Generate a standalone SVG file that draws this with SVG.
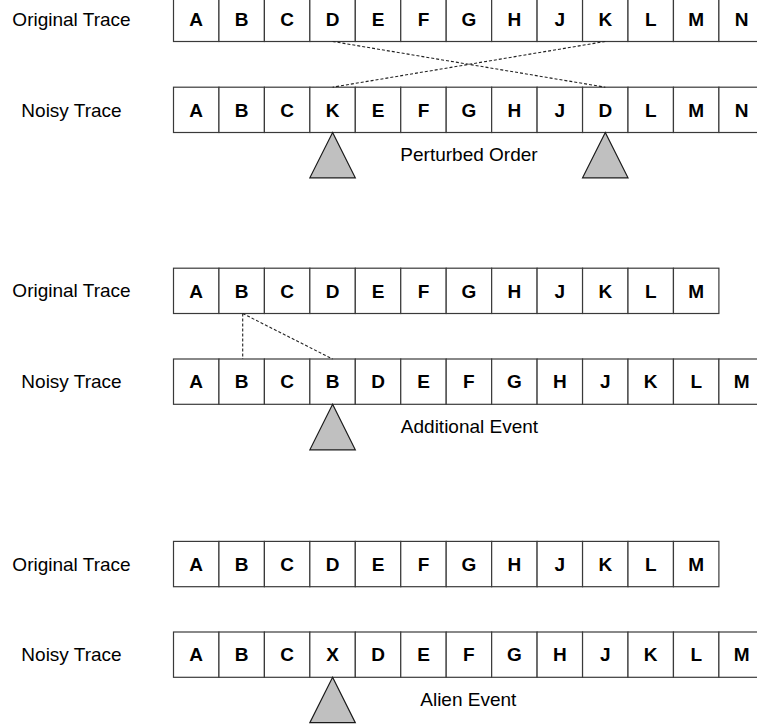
<svg xmlns="http://www.w3.org/2000/svg" width="757" height="727" viewBox="0 0 757 727">
<defs>
<style>
.bg{fill:#ffffff}
.cell{fill:#ffffff;stroke:#3a3a3a;stroke-width:1.2}
.ev{font-family:"Liberation Sans",Arial,sans-serif;font-size:19px;font-weight:bold;fill:#000;text-anchor:middle}
.lbl{font-family:"Liberation Sans",Arial,sans-serif;font-size:19px;fill:#000;text-anchor:middle}
.note{font-family:"Liberation Sans",Arial,sans-serif;font-size:19px;fill:#000;text-anchor:middle}
.tri{fill:#c0c0c0;stroke:#1a1a1a;stroke-width:1.2}
.dash{fill:none;stroke:#222;stroke-width:1.1;stroke-dasharray:3 2}
</style>
</defs>
<rect class="bg" x="0" y="0" width="757" height="727"/>

<!-- Section 1: Perturbed Order -->
<g id="s1-orig-label"><text class="lbl" x="71.5" y="25.6">Original Trace</text></g>
<g id="s1-orig">
<rect class="cell" x="173.5" y="-3.8" width="45.45" height="45.3"/>
<rect class="cell" x="218.95" y="-3.8" width="45.45" height="45.3"/>
<rect class="cell" x="264.4" y="-3.8" width="45.45" height="45.3"/>
<rect class="cell" x="309.85" y="-3.8" width="45.45" height="45.3"/>
<rect class="cell" x="355.3" y="-3.8" width="45.45" height="45.3"/>
<rect class="cell" x="400.75" y="-3.8" width="45.45" height="45.3"/>
<rect class="cell" x="446.2" y="-3.8" width="45.45" height="45.3"/>
<rect class="cell" x="491.65" y="-3.8" width="45.45" height="45.3"/>
<rect class="cell" x="537.1" y="-3.8" width="45.45" height="45.3"/>
<rect class="cell" x="582.55" y="-3.8" width="45.45" height="45.3"/>
<rect class="cell" x="628" y="-3.8" width="45.45" height="45.3"/>
<rect class="cell" x="673.45" y="-3.8" width="45.45" height="45.3"/>
<rect class="cell" x="718.9" y="-3.8" width="45.45" height="45.3"/>
<text class="ev" x="196.2" y="25.6">A</text>
<text class="ev" x="241.7" y="25.6">B</text>
<text class="ev" x="287.1" y="25.6">C</text>
<text class="ev" x="332.6" y="25.6">D</text>
<text class="ev" x="378" y="25.6">E</text>
<text class="ev" x="423.5" y="25.6">F</text>
<text class="ev" x="468.9" y="25.6">G</text>
<text class="ev" x="514.4" y="25.6">H</text>
<text class="ev" x="559.8" y="25.6">J</text>
<text class="ev" x="605.3" y="25.6">K</text>
<text class="ev" x="650.7" y="25.6">L</text>
<text class="ev" x="696.2" y="25.6">M</text>
<text class="ev" x="741.6" y="25.6">N</text>
</g>
<g id="s1-noisy-label"><text class="lbl" x="71.5" y="116.6">Noisy Trace</text></g>
<g id="s1-noisy">
<rect class="cell" x="173.5" y="87.2" width="45.45" height="45.3"/>
<rect class="cell" x="218.95" y="87.2" width="45.45" height="45.3"/>
<rect class="cell" x="264.4" y="87.2" width="45.45" height="45.3"/>
<rect class="cell" x="309.85" y="87.2" width="45.45" height="45.3"/>
<rect class="cell" x="355.3" y="87.2" width="45.45" height="45.3"/>
<rect class="cell" x="400.75" y="87.2" width="45.45" height="45.3"/>
<rect class="cell" x="446.2" y="87.2" width="45.45" height="45.3"/>
<rect class="cell" x="491.65" y="87.2" width="45.45" height="45.3"/>
<rect class="cell" x="537.1" y="87.2" width="45.45" height="45.3"/>
<rect class="cell" x="582.55" y="87.2" width="45.45" height="45.3"/>
<rect class="cell" x="628" y="87.2" width="45.45" height="45.3"/>
<rect class="cell" x="673.45" y="87.2" width="45.45" height="45.3"/>
<rect class="cell" x="718.9" y="87.2" width="45.45" height="45.3"/>
<text class="ev" x="196.2" y="116.6">A</text>
<text class="ev" x="241.7" y="116.6">B</text>
<text class="ev" x="287.1" y="116.6">C</text>
<text class="ev" x="332.6" y="116.6">K</text>
<text class="ev" x="378" y="116.6">E</text>
<text class="ev" x="423.5" y="116.6">F</text>
<text class="ev" x="468.9" y="116.6">G</text>
<text class="ev" x="514.4" y="116.6">H</text>
<text class="ev" x="559.8" y="116.6">J</text>
<text class="ev" x="605.3" y="116.6">D</text>
<text class="ev" x="650.7" y="116.6">L</text>
<text class="ev" x="696.2" y="116.6">M</text>
<text class="ev" x="741.6" y="116.6">N</text>
</g>
<g id="s1-marker-1"><polygon class="tri" points="332.6,132.5 355.3,177.8 309.85,177.8"/></g>
<g id="s1-marker-2"><polygon class="tri" points="605.3,132.5 628,177.8 582.55,177.8"/></g>
<g id="s1-caption"><text class="note" x="469" y="160.5">Perturbed Order</text></g>

<!-- Section 2: Additional Event -->
<g id="s2-orig-label"><text class="lbl" x="71.5" y="297.2">Original Trace</text></g>
<g id="s2-orig">
<rect class="cell" x="173.5" y="268.2" width="45.45" height="45.3"/>
<rect class="cell" x="218.95" y="268.2" width="45.45" height="45.3"/>
<rect class="cell" x="264.4" y="268.2" width="45.45" height="45.3"/>
<rect class="cell" x="309.85" y="268.2" width="45.45" height="45.3"/>
<rect class="cell" x="355.3" y="268.2" width="45.45" height="45.3"/>
<rect class="cell" x="400.75" y="268.2" width="45.45" height="45.3"/>
<rect class="cell" x="446.2" y="268.2" width="45.45" height="45.3"/>
<rect class="cell" x="491.65" y="268.2" width="45.45" height="45.3"/>
<rect class="cell" x="537.1" y="268.2" width="45.45" height="45.3"/>
<rect class="cell" x="582.55" y="268.2" width="45.45" height="45.3"/>
<rect class="cell" x="628" y="268.2" width="45.45" height="45.3"/>
<rect class="cell" x="673.45" y="268.2" width="45.45" height="45.3"/>
<text class="ev" x="196.2" y="297.6">A</text>
<text class="ev" x="241.7" y="297.6">B</text>
<text class="ev" x="287.1" y="297.6">C</text>
<text class="ev" x="332.6" y="297.6">D</text>
<text class="ev" x="378" y="297.6">E</text>
<text class="ev" x="423.5" y="297.6">F</text>
<text class="ev" x="468.9" y="297.6">G</text>
<text class="ev" x="514.4" y="297.6">H</text>
<text class="ev" x="559.8" y="297.6">J</text>
<text class="ev" x="605.3" y="297.6">K</text>
<text class="ev" x="650.7" y="297.6">L</text>
<text class="ev" x="696.2" y="297.6">M</text>
</g>
<g id="s2-noisy-label"><text class="lbl" x="71.5" y="388.4">Noisy Trace</text></g>
<g id="s2-noisy">
<rect class="cell" x="173.5" y="359" width="45.45" height="45.3"/>
<rect class="cell" x="218.95" y="359" width="45.45" height="45.3"/>
<rect class="cell" x="264.4" y="359" width="45.45" height="45.3"/>
<rect class="cell" x="309.85" y="359" width="45.45" height="45.3"/>
<rect class="cell" x="355.3" y="359" width="45.45" height="45.3"/>
<rect class="cell" x="400.75" y="359" width="45.45" height="45.3"/>
<rect class="cell" x="446.2" y="359" width="45.45" height="45.3"/>
<rect class="cell" x="491.65" y="359" width="45.45" height="45.3"/>
<rect class="cell" x="537.1" y="359" width="45.45" height="45.3"/>
<rect class="cell" x="582.55" y="359" width="45.45" height="45.3"/>
<rect class="cell" x="628" y="359" width="45.45" height="45.3"/>
<rect class="cell" x="673.45" y="359" width="45.45" height="45.3"/>
<rect class="cell" x="718.9" y="359" width="45.45" height="45.3"/>
<text class="ev" x="196.2" y="388.4">A</text>
<text class="ev" x="241.7" y="388.4">B</text>
<text class="ev" x="287.1" y="388.4">C</text>
<text class="ev" x="332.6" y="388.4">B</text>
<text class="ev" x="378" y="388.4">D</text>
<text class="ev" x="423.5" y="388.4">E</text>
<text class="ev" x="468.9" y="388.4">F</text>
<text class="ev" x="514.4" y="388.4">G</text>
<text class="ev" x="559.8" y="388.4">H</text>
<text class="ev" x="605.3" y="388.4">J</text>
<text class="ev" x="650.7" y="388.4">K</text>
<text class="ev" x="696.2" y="388.4">L</text>
<text class="ev" x="741.6" y="388.4">M</text>
</g>
<g id="s2-marker"><polygon class="tri" points="332.6,404.3 355.3,449.8 309.85,449.8"/></g>
<g id="s2-caption"><text class="note" x="469.5" y="433">Additional Event</text></g>

<!-- Section 3: Alien Event -->
<g id="s3-orig-label"><text class="lbl" x="71.5" y="570.6">Original Trace</text></g>
<g id="s3-orig">
<rect class="cell" x="173.5" y="541.4" width="45.45" height="45.3"/>
<rect class="cell" x="218.95" y="541.4" width="45.45" height="45.3"/>
<rect class="cell" x="264.4" y="541.4" width="45.45" height="45.3"/>
<rect class="cell" x="309.85" y="541.4" width="45.45" height="45.3"/>
<rect class="cell" x="355.3" y="541.4" width="45.45" height="45.3"/>
<rect class="cell" x="400.75" y="541.4" width="45.45" height="45.3"/>
<rect class="cell" x="446.2" y="541.4" width="45.45" height="45.3"/>
<rect class="cell" x="491.65" y="541.4" width="45.45" height="45.3"/>
<rect class="cell" x="537.1" y="541.4" width="45.45" height="45.3"/>
<rect class="cell" x="582.55" y="541.4" width="45.45" height="45.3"/>
<rect class="cell" x="628" y="541.4" width="45.45" height="45.3"/>
<rect class="cell" x="673.45" y="541.4" width="45.45" height="45.3"/>
<text class="ev" x="196.2" y="570.8">A</text>
<text class="ev" x="241.7" y="570.8">B</text>
<text class="ev" x="287.1" y="570.8">C</text>
<text class="ev" x="332.6" y="570.8">D</text>
<text class="ev" x="378" y="570.8">E</text>
<text class="ev" x="423.5" y="570.8">F</text>
<text class="ev" x="468.9" y="570.8">G</text>
<text class="ev" x="514.4" y="570.8">H</text>
<text class="ev" x="559.8" y="570.8">J</text>
<text class="ev" x="605.3" y="570.8">K</text>
<text class="ev" x="650.7" y="570.8">L</text>
<text class="ev" x="696.2" y="570.8">M</text>
</g>
<g id="s3-noisy-label"><text class="lbl" x="71.5" y="661.2">Noisy Trace</text></g>
<g id="s3-noisy">
<rect class="cell" x="173.5" y="632" width="45.45" height="45.3"/>
<rect class="cell" x="218.95" y="632" width="45.45" height="45.3"/>
<rect class="cell" x="264.4" y="632" width="45.45" height="45.3"/>
<rect class="cell" x="309.85" y="632" width="45.45" height="45.3"/>
<rect class="cell" x="355.3" y="632" width="45.45" height="45.3"/>
<rect class="cell" x="400.75" y="632" width="45.45" height="45.3"/>
<rect class="cell" x="446.2" y="632" width="45.45" height="45.3"/>
<rect class="cell" x="491.65" y="632" width="45.45" height="45.3"/>
<rect class="cell" x="537.1" y="632" width="45.45" height="45.3"/>
<rect class="cell" x="582.55" y="632" width="45.45" height="45.3"/>
<rect class="cell" x="628" y="632" width="45.45" height="45.3"/>
<rect class="cell" x="673.45" y="632" width="45.45" height="45.3"/>
<rect class="cell" x="718.9" y="632" width="45.45" height="45.3"/>
<text class="ev" x="196.2" y="661.4">A</text>
<text class="ev" x="241.7" y="661.4">B</text>
<text class="ev" x="287.1" y="661.4">C</text>
<text class="ev" x="332.6" y="661.4">X</text>
<text class="ev" x="378" y="661.4">D</text>
<text class="ev" x="423.5" y="661.4">E</text>
<text class="ev" x="468.9" y="661.4">F</text>
<text class="ev" x="514.4" y="661.4">G</text>
<text class="ev" x="559.8" y="661.4">H</text>
<text class="ev" x="605.3" y="661.4">J</text>
<text class="ev" x="650.7" y="661.4">K</text>
<text class="ev" x="696.2" y="661.4">L</text>
<text class="ev" x="741.6" y="661.4">M</text>
</g>
<g id="s3-marker"><polygon class="tri" points="332.6,677.3 355.3,722.7 309.85,722.7"/></g>
<g id="s3-caption"><text class="note" x="468.3" y="706.2">Alien Event</text></g>

<!-- Connectors -->
<g id="connectors">
<line class="dash" x1="332.6" y1="41.5" x2="605.3" y2="87.2"/>
<line class="dash" x1="605.3" y1="41.5" x2="332.6" y2="87.2"/>
<line class="dash" x1="242.7" y1="313.5" x2="242.7" y2="359"/>
<line class="dash" x1="242.7" y1="313.5" x2="332.6" y2="359"/>
</g>
</svg>
